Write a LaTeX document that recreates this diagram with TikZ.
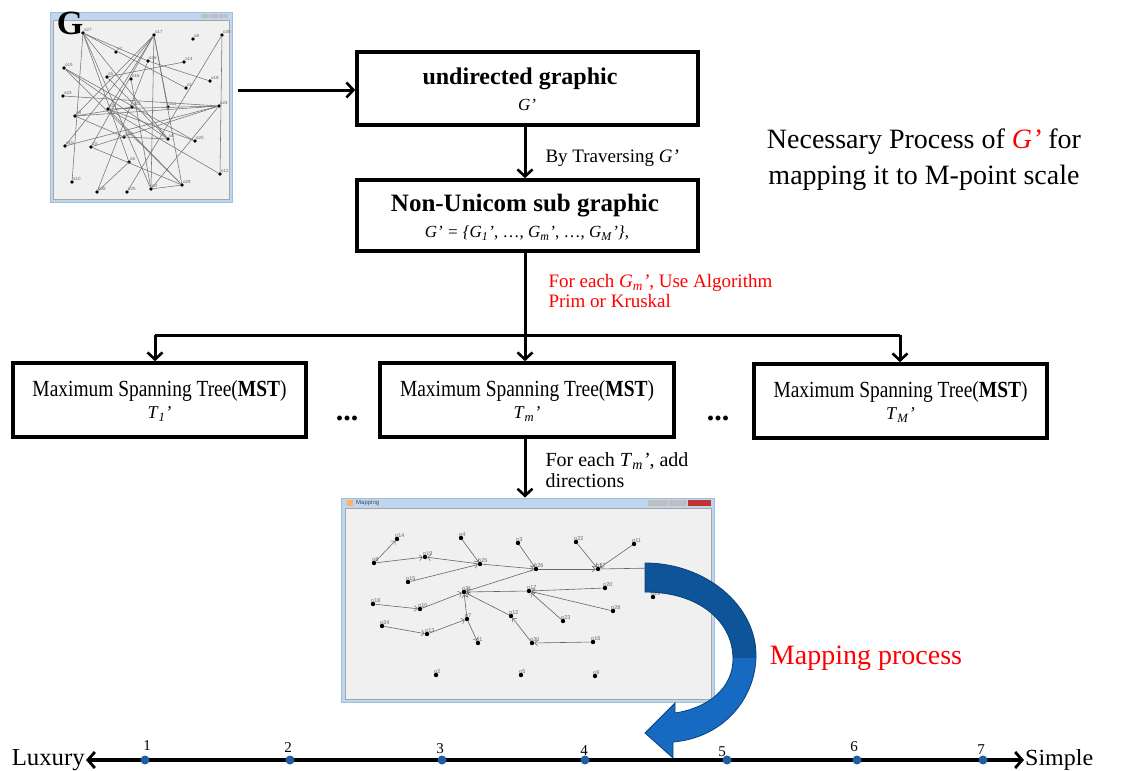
\documentclass[tikz,border=0pt]{standalone}
\usepackage{fontspec}
\setmainfont{Liberation Serif}
\setsansfont{Liberation Sans}
\usepackage{graphicx}
\usetikzlibrary{arrows.meta}
\definecolor{darkblueA}{RGB}{14,84,152}
\definecolor{lightblueA}{RGB}{22,106,194}
\definecolor{winbg}{RGB}{240,240,240}
\definecolor{wintitle}{RGB}{190,214,240}
\definecolor{winframe}{RGB}{165,188,215}
\definecolor{dotblue}{RGB}{31,95,160}
\newcommand\fs[2]{\fontsize{#1}{#2}\selectfont}
\newcommand\gp[2]{\textit{#1}\textsubscript{\textit{#2}}\textit{'}}
\tikzset{
  box/.style={draw, line width=3.6pt, inner sep=0pt, fill=white},
  conn/.style={line width=3pt, -{Straight Barb[length=7pt,width=15pt,line width=2.6pt]}},
  axisline/.style={line width=3.6pt, {Straight Barb[length=7pt,width=16pt,line width=2.8pt]}-{Straight Barb[length=7pt,width=16pt,line width=2.8pt]}},
  gnode/.style={circle, fill=black, inner sep=0pt, minimum size=3.8pt},
  gedge/.style={draw=black!55, line width=0.55pt},
  medge/.style={draw=black!60, line width=0.6pt, -{Straight Barb[length=3pt,width=6pt,line width=0.5pt]}},
  tinylab/.style={font=\sffamily\fs{4.5}{5}, text=black!60, inner sep=0pt},
  win/.style={draw=winframe, fill=wintitle, line width=1pt, inner sep=0pt},
}
\begin{document}
\begin{tikzpicture}[x=1pt,y=-1pt]
\useasboundingbox (0,0) rectangle (1122,771);
\fill[white] (0,0) rectangle (1122,771);

% ---------- G window ----------
\node[win, minimum width=182pt, minimum height=190pt] (gwin) at (141,107) {};
\fill[winbg] (53,20) rectangle (229,199);
\draw[black!35, line width=0.4pt] (53,20) rectangle (229,199);
\fill[black!25] (201,14) rectangle (209,18);
\fill[black!25] (210,14) rectangle (218,18);
\fill[black!25] (219,14) rectangle (228,18);
\foreach \n/\x/\y in {27/83/33, 17/154/35, 8/193/39, 30/222/35, 7/116/52, 26/148/61, 14/184/62,
  19/64/68, 5/107/77, 16/131/79, 18/210/81, 1/186/88, 23/63/96, 24/219/106, 21/108/109,
  22/132/107, 11/168/107, 9/75/116, 13/124/137, 2/168/139, 20/195/141, 15/65/146, 3/91/147,
  6/129/162, 12/220/174, 10/72/182, 28/97/192, 25/127/192, 4/151/189, 29/182/185}{
  \node[gnode] (a\n) at (\x,\y) {};
  \node[tinylab, anchor=south west] at (\x+1,\y-1.5) {o\n};
}
\foreach \s/\t in {27/10, 27/26, 27/1, 27/2, 27/4, 27/6, 17/21, 17/9, 17/15, 17/4, 17/29, 17/11, 17/3,
  30/12, 30/25, 14/5, 5/2, 26/18, 26/28, 19/2, 19/20, 19/29, 23/24, 24/9, 24/21, 24/15, 24/4, 24/3,
  21/29, 21/12, 21/20, 9/22, 9/13, 3/29, 4/29, 16/4, 13/2, 6/28}{
  \draw[gedge] (a\s) -- (a\t);
}
\node[font=\fs{34}{34}\bfseries, inner sep=0pt] (glabel) at (70,23) {G};

% ---------- boxes ----------
\node[box, minimum width=341pt, minimum height=73pt] (b1) at (527.5,88.5) {};
\node[font=\fs{24}{28}\bfseries] (t1a) at (520,79) {undirected graphic};
\node[font=\fs{17}{20}] (t1b) at (527,105) {\textit{G'}};

\node[box, minimum width=341pt, minimum height=71pt] (b2) at (527.5,215.5) {};
\node[font=\fs{25}{28}\bfseries] (t2a) at (525,206) {Non-Unicom sub graphic};
\node[font=\fs{17}{20}] (t2b) at (527,233) {\textit{G' = \{}\gp{G}{1}, \ldots, \gp{G}{m}, \ldots, \gp{G}{M}\textit{\}},};

\node[box, minimum width=293pt, minimum height=74pt] (bL) at (159.5,400) {};
\node[box, minimum width=294pt, minimum height=74pt] (bM) at (527,400) {};
\node[box, minimum width=293pt, minimum height=74pt] (bR) at (900.5,401) {};
\node (tLa) at (159.5,391) {\resizebox{254pt}{16pt}{Maximum Spanning Tree(\textbf{MST})}};
\node (tMa) at (527,391) {\resizebox{254pt}{16pt}{Maximum Spanning Tree(\textbf{MST})}};
\node (tRa) at (900.5,392) {\resizebox{254pt}{16pt}{Maximum Spanning Tree(\textbf{MST})}};
\node[font=\fs{18}{20}] (tLb) at (159.5,414) {\gp{T}{1}};
\node[font=\fs{18}{20}] (tMb) at (527,414) {\gp{T}{m}};
\node[font=\fs{18}{20}] (tRb) at (900.5,415) {\gp{T}{M}};
\node[font=\fs{30}{30}\bfseries] (dots1) at (347,418) {...};
\node[font=\fs{30}{30}\bfseries] (dots2) at (718,418) {...};

% ---------- connectors ----------
\coordinate (mx) at (525,0);
\coordinate (ga) at (238,90);
\draw[conn] (ga) -- (b1.west |- ga);
\draw[conn] (b1.south -| mx) -- (b2.north -| mx);
\node[anchor=west, font=\fs{19}{22}] (lab1) at (542,158) {By Traversing \textit{G'}};
\coordinate (jL) at (155,335);
\coordinate (jR) at (900,335);
\coordinate (jM) at (525,335);
\draw[line width=3pt] (b2.south -| mx) -- (jM);
\draw[line width=3pt] (jL) -- (jR);
\draw[conn] (jL) -- (bL.north -| jL);
\draw[conn] (jM) -- (bM.north -| jM);
\draw[conn] (jR) -- (bR.north -| jR);
\node[anchor=west, text=red, font=\fs{19}{20}, align=left] (lab2) at (545,291) {For each \gp{G}{m}, Use Algorithm\\Prim or Kruskal};

% ---------- mapping window ----------
\node[win, minimum width=373pt, minimum height=204pt] (mapwin) at (527.5,600) {};
\draw[conn] (bM.south -| mx) -- (mapwin.north -| mx);
\node[anchor=west, font=\fs{20}{21}, align=left] (lab3) at (542,470) {For each \gp{T}{m}, add\\directions};
\fill[winbg] (345,508) rectangle (711,699);
\draw[black!35, line width=0.4pt] (345,508) rectangle (711,699);
\fill[black!25] (648,499.5) rectangle (668,505.5);
\fill[black!25] (669,499.5) rectangle (687,505.5);
\fill[red!70!black!80] (688,499.5) rectangle (711,505.5);
\fill[orange!60] (347,500) rectangle (353,506);
\node[anchor=west, font=\sffamily\fs{6}{7}, text=black!70, inner sep=0pt] (maptitle) at (356,503) {Mapping};
\foreach \n/\l/\x/\y in {14/14/397/539, 4/4/461/538, 3/3/518/543, 22/22/576/542, 11/11/634/544,
  8/8/374/563, 19/19/425/557, 25/25/480/564, 26/26/536/569, 27/27/598/569,
  15/15/408/582, 21/21/464/592, 17/17/529/591, 20/20/605/588, 29/29/653/597,
  18/18/373/604, 10/10/420/609, 28/28/613/611, 12/12/511/616, 7/7/467/619, 23/23/563/621,
  24/24/382/626, 13/13/427/634, 1/1/478/643, 30/30/532/643, 16/16/593/642,
  2/2/436/675, 5/5/521/675, 9/9/595/676}{
  \node[gnode, minimum size=4.4pt] (m\n) at (\x,\y) {};
  \node[tinylab, font=\sffamily\fs{5.5}{6}, anchor=south west] at (\x-2,\y-1.5) {o\l};
}
\coordinate (mRight) at (655,568);
\foreach \s/\t in {8/14, 8/19, 25/19, 4/25, 15/25, 25/26, 3/26, 26/27, 22/27, 11/27,
  26/21, 17/21, 20/17, 28/17, 23/17, 10/21, 18/10, 7/21, 7/1, 13/7, 24/13, 12/21, 30/12, 16/30}{
  \draw[medge] (m\s) -- (m\t);
}
\draw[black!60, line width=0.6pt] (m27) -- (mRight);

% ---------- blue curved arrow ----------
\fill[lightblueA] (645,563) .. controls (705,563) and (757,605) .. (756,657)
  .. controls (755,700) and (722,738) .. (673,742) -- (673,758) -- (645,733) -- (675,703) -- (675,713)
  .. controls (708,708) and (734,688) .. (733,657) .. controls (732,622) and (700,592) .. (645,592) -- cycle;
\begin{scope}
\clip (600,540) rectangle (800,657);
\fill[darkblueA] (645,563) .. controls (705,563) and (757,605) .. (756,657)
  .. controls (755,700) and (722,738) .. (673,742) -- (673,758) -- (645,733) -- (675,703) -- (675,713)
  .. controls (708,708) and (734,688) .. (733,657) .. controls (732,622) and (700,592) .. (645,592) -- cycle;
\end{scope}
\draw[darkblueA!80!black, line width=0.8pt] (645,563) .. controls (705,563) and (757,605) .. (756,657)
  .. controls (755,700) and (722,738) .. (673,742) -- (673,758) -- (645,733) -- (675,703) -- (675,713)
  .. controls (708,708) and (734,688) .. (733,657) .. controls (732,622) and (700,592) .. (645,592) -- cycle;
\node[text=red, font=\fs{28}{30}] (mapproc) at (866,658) {Mapping process};

% ---------- title ----------
\node[align=center, font=\fs{28}{36}] (title) at (924,160) {Necessary Process of \textcolor{red}{\textit{G'}} for\\mapping it to M-point scale};

% ---------- axis ----------
\coordinate (axL) at (86,760);
\coordinate (axR) at (1024,760);
\draw[axisline] (axL) -- (axR);
\node[anchor=east, inner sep=1pt] (lux) at (axL) {\resizebox{73pt}{16pt}{Luxury}};
\node[anchor=west, inner sep=1pt] (simp) at (axR) {\resizebox{68pt}{16pt}{Simple}};
\foreach \x/\l/\lx/\ly in {145/1/147/746, 290/2/288/748, 442/3/440/749, 585/4/584/751, 727/5/722/752, 857/6/854/747, 983/7/981/750}{
  \fill[dotblue] (\x,760) circle (4.5);
  \node[font=\fs{15}{16}, inner sep=0pt] at (\lx,\ly) {\l};
}
\end{tikzpicture}
\end{document}
